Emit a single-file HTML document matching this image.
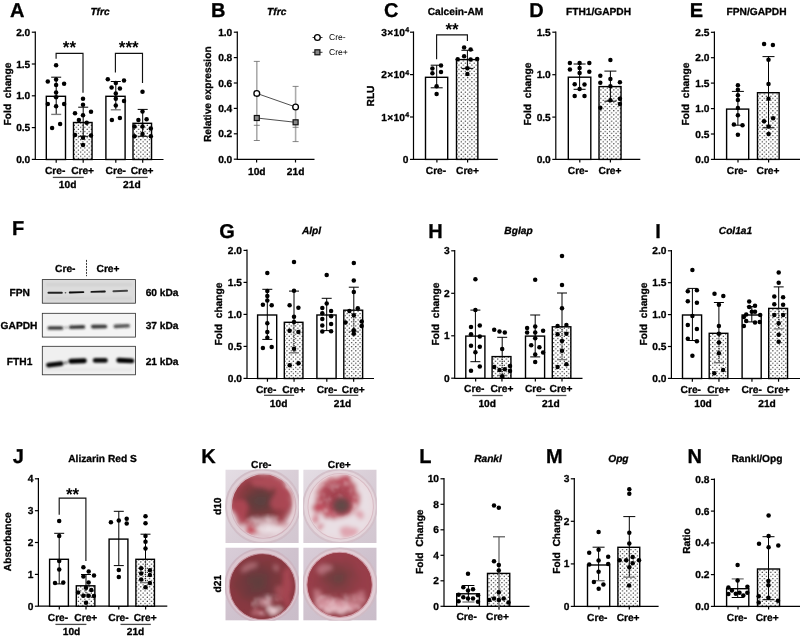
<!DOCTYPE html>
<html lang="en"><head><meta charset="utf-8"><title>Figure</title>
<style>html,body{margin:0;padding:0;background:#fff;}svg{display:block;}text{font-family:'Liberation Sans', Arial, sans-serif;fill:#000;text-rendering:geometricPrecision;}text[font-weight=bold]{stroke:#000;stroke-width:0.3px;stroke-linejoin:round;}</style>
</head><body>
<svg width="800" height="637" viewBox="0 0 800 637">
<defs>
<pattern id="dots" width="4.3" height="4.14" patternUnits="userSpaceOnUse">
<rect width="4.3" height="4.14" fill="#fff"/>
<circle cx="1.1" cy="1.0" r="0.62" fill="#000"/>
<circle cx="3.25" cy="3.07" r="0.62" fill="#000"/>
</pattern>
<filter id="blur1" x="-5%" y="-50%" width="110%" height="200%"><feGaussianBlur stdDeviation="0.55"/></filter>
<filter id="blur2" x="-5%" y="-50%" width="110%" height="200%"><feGaussianBlur stdDeviation="0.8"/></filter>
<filter id="blur3" x="-5%" y="-50%" width="110%" height="200%"><feGaussianBlur stdDeviation="1.0"/></filter>

<linearGradient id="kbg" x1="0" y1="0" x2="1" y2="1"><stop offset="0" stop-color="#e4dde4"/><stop offset="0.5" stop-color="#d9ced7"/><stop offset="1" stop-color="#d2c6d0"/></linearGradient>
<linearGradient id="kbg2" x1="0" y1="0" x2="1" y2="1"><stop offset="0" stop-color="#d9cdd8"/><stop offset="0.5" stop-color="#cfc2ce"/><stop offset="1" stop-color="#cabdc9"/></linearGradient>
<radialGradient id="kr1" cx="0.48" cy="0.5" r="0.5"><stop offset="0" stop-color="#584240"/><stop offset="0.32" stop-color="#673b3d"/><stop offset="0.6" stop-color="#87393f"/><stop offset="0.85" stop-color="#9e414c"/><stop offset="1" stop-color="#b35a64" stop-opacity="0.7"/></radialGradient>
<radialGradient id="kr2" cx="0.5" cy="0.5" r="0.5"><stop offset="0" stop-color="#9c3f4b"/><stop offset="0.6" stop-color="#ad4856"/><stop offset="0.85" stop-color="#bf606c"/><stop offset="1" stop-color="#d0808a" stop-opacity="0.6"/></radialGradient>
<radialGradient id="kd2" cx="0.5" cy="0.5" r="0.5"><stop offset="0" stop-color="#5c4a45"/><stop offset="0.55" stop-color="#704447"/><stop offset="1" stop-color="#9c414e" stop-opacity="0.5"/></radialGradient>
<radialGradient id="kr3" cx="0.5" cy="0.5" r="0.5"><stop offset="0" stop-color="#5c403e"/><stop offset="0.4" stop-color="#6c393c"/><stop offset="0.8" stop-color="#7e383e"/><stop offset="1" stop-color="#873840" stop-opacity="0.6"/></radialGradient>
<radialGradient id="kr4" cx="0.5" cy="0.5" r="0.5"><stop offset="0" stop-color="#66413f"/><stop offset="0.4" stop-color="#7b3c41"/><stop offset="0.8" stop-color="#903d46"/><stop offset="1" stop-color="#973e48" stop-opacity="0.6"/></radialGradient>
<clipPath id="kc1"><circle cx="52" cy="49.5" r="43"/></clipPath>
<clipPath id="kc2"><circle cx="51" cy="50" r="43.5"/></clipPath>
<clipPath id="kc3"><circle cx="50.5" cy="53.5" r="44.2"/></clipPath>
<clipPath id="kc4"><circle cx="49.5" cy="51" r="43.7"/></clipPath>
<filter id="kb1"><feGaussianBlur stdDeviation="1.2"/></filter>
<filter id="kb2" x="-30%" y="-30%" width="160%" height="160%"><feGaussianBlur stdDeviation="2.2"/></filter>
<filter id="wb" x="-10%" y="-10%" width="120%" height="120%">
<feTurbulence type="fractalNoise" baseFrequency="0.07" numOctaves="3" seed="4" result="n"/>
<feDisplacementMap in="SourceGraphic" in2="n" scale="12" xChannelSelector="R" yChannelSelector="G" result="d"/>
<feGaussianBlur in="d" stdDeviation="2.6"/>
</filter>
<filter id="mot" x="0" y="0" width="100%" height="100%">
<feTurbulence type="fractalNoise" baseFrequency="0.11" numOctaves="3" seed="11" result="t"/>
<feColorMatrix in="t" type="matrix" values="0 0 0 0 0.95  0 0 0 0 0.9  0 0 0 0 0.92  0 0 0 2.0 -0.85" result="m"/>
<feComposite in="m" in2="SourceGraphic" operator="in" result="c"/>
<feGaussianBlur in="c" stdDeviation="1.6"/>
</filter>

</defs>
<rect width="800" height="637" fill="#fff"/>
<g id="panelA">
<text x="17.3" y="17.2" font-size="20" font-weight="bold" text-anchor="middle">A</text>
<text x="100" y="14.6" font-size="10.2" font-weight="bold" text-anchor="middle" font-style="italic">Tfrc</text>
<path d="M35.3 31.5 V159.5 H163.5" fill="none" stroke="#000" stroke-width="1.2"/>
<line x1="31.799999999999997" y1="32.2" x2="35.3" y2="32.2" stroke="#000" stroke-width="1.2"/>
<text x="30.299999999999997" y="35.7" font-size="10.2" font-weight="bold" text-anchor="end">2.0</text>
<line x1="31.799999999999997" y1="64" x2="35.3" y2="64" stroke="#000" stroke-width="1.2"/>
<text x="30.299999999999997" y="67.5" font-size="10.2" font-weight="bold" text-anchor="end">1.5</text>
<line x1="31.799999999999997" y1="95.8" x2="35.3" y2="95.8" stroke="#000" stroke-width="1.2"/>
<text x="30.299999999999997" y="99.3" font-size="10.2" font-weight="bold" text-anchor="end">1.0</text>
<line x1="31.799999999999997" y1="127.6" x2="35.3" y2="127.6" stroke="#000" stroke-width="1.2"/>
<text x="30.299999999999997" y="131.1" font-size="10.2" font-weight="bold" text-anchor="end">0.5</text>
<line x1="31.799999999999997" y1="159.4" x2="35.3" y2="159.4" stroke="#000" stroke-width="1.2"/>
<text x="30.299999999999997" y="162.9" font-size="10.2" font-weight="bold" text-anchor="end">0.0</text>
<text x="10.9" y="94" font-size="10.2" font-weight="bold" text-anchor="middle" transform="rotate(-90 10.9 94)" xml:space="preserve">Fold  change</text>
<rect x="46.3" y="96.3" width="19.200000000000003" height="63.2" fill="#fff" stroke="#000" stroke-width="1.4"/>
<line x1="56.199999999999996" y1="159.5" x2="56.199999999999996" y2="162.7" stroke="#000" stroke-width="1.2"/>
<rect x="73.5" y="122.5" width="18.549999999999997" height="37.0" fill="url(#dots)" stroke="#000" stroke-width="1.4"/>
<line x1="83.2" y1="159.5" x2="83.2" y2="162.7" stroke="#000" stroke-width="1.2"/>
<rect x="105.9" y="96.3" width="19.19999999999999" height="63.2" fill="#fff" stroke="#000" stroke-width="1.4"/>
<line x1="115.80000000000001" y1="159.5" x2="115.80000000000001" y2="162.7" stroke="#000" stroke-width="1.2"/>
<rect x="133" y="123.3" width="18.55000000000001" height="36.2" fill="url(#dots)" stroke="#000" stroke-width="1.4"/>
<line x1="142.7" y1="159.5" x2="142.7" y2="162.7" stroke="#000" stroke-width="1.2"/>
<line x1="56.2" y1="77.2" x2="56.2" y2="114.4" stroke="#000" stroke-width="1.0"/>
<line x1="51.2" y1="77.2" x2="61.2" y2="77.2" stroke="#000" stroke-width="1.0"/>
<line x1="51.2" y1="114.4" x2="61.2" y2="114.4" stroke="#7a7a7a" stroke-width="1.35"/>
<line x1="83.2" y1="107.2" x2="83.2" y2="136.3" stroke="#000" stroke-width="1.0"/>
<line x1="78.2" y1="107.2" x2="88.2" y2="107.2" stroke="#000" stroke-width="1.0"/>
<line x1="78.2" y1="136.3" x2="88.2" y2="136.3" stroke="#000" stroke-width="1.0"/>
<line x1="115.8" y1="81.5" x2="115.8" y2="109.8" stroke="#000" stroke-width="1.0"/>
<line x1="110.8" y1="81.5" x2="120.8" y2="81.5" stroke="#000" stroke-width="1.0"/>
<line x1="110.8" y1="109.8" x2="120.8" y2="109.8" stroke="#7a7a7a" stroke-width="1.35"/>
<line x1="142.7" y1="109.4" x2="142.7" y2="136.3" stroke="#000" stroke-width="1.0"/>
<line x1="137.7" y1="109.4" x2="147.7" y2="109.4" stroke="#000" stroke-width="1.0"/>
<line x1="137.7" y1="136.3" x2="147.7" y2="136.3" stroke="#000" stroke-width="1.0"/>
<circle cx="56.1" cy="65.3" r="2.25"/>
<circle cx="47.8" cy="81.5" r="2.25"/>
<circle cx="56.1" cy="79.5" r="2.25"/>
<circle cx="64.1" cy="83.7" r="2.25"/>
<circle cx="56.1" cy="84.9" r="2.25"/>
<circle cx="56.1" cy="92.5" r="2.25"/>
<circle cx="56.1" cy="97.3" r="2.25"/>
<circle cx="47.8" cy="104.1" r="2.25"/>
<circle cx="64.1" cy="104.1" r="2.25"/>
<circle cx="56.1" cy="106.3" r="2.25"/>
<circle cx="60.1" cy="124" r="2.25"/>
<circle cx="52.1" cy="127.9" r="2.25"/>
<circle cx="83" cy="98.8" r="2.25"/>
<circle cx="83" cy="104.8" r="2.25"/>
<circle cx="75" cy="113.2" r="2.25"/>
<circle cx="91" cy="111.7" r="2.25"/>
<circle cx="83" cy="115.2" r="2.25"/>
<circle cx="78.9" cy="120" r="2.25"/>
<circle cx="86.7" cy="122.8" r="2.25"/>
<circle cx="75" cy="135" r="2.25"/>
<circle cx="91" cy="135.4" r="2.25"/>
<circle cx="83" cy="137.7" r="2.25"/>
<circle cx="83" cy="144.9" r="2.25"/>
<circle cx="107.8" cy="79.2" r="2.25"/>
<circle cx="124" cy="80.4" r="2.25"/>
<circle cx="115.8" cy="83" r="2.25"/>
<circle cx="111.6" cy="87.5" r="2.25"/>
<circle cx="119.9" cy="88.5" r="2.25"/>
<circle cx="115.8" cy="93.5" r="2.25"/>
<circle cx="115.8" cy="98.8" r="2.25"/>
<circle cx="124" cy="101" r="2.25"/>
<circle cx="115.8" cy="105.6" r="2.25"/>
<circle cx="119.9" cy="118" r="2.25"/>
<circle cx="111.9" cy="119.9" r="2.25"/>
<circle cx="142.5" cy="91.7" r="2.25"/>
<circle cx="142.5" cy="111.6" r="2.25"/>
<circle cx="138.4" cy="120" r="2.25"/>
<circle cx="146.6" cy="119.2" r="2.25"/>
<circle cx="134.5" cy="126.4" r="2.25"/>
<circle cx="150.8" cy="128.6" r="2.25"/>
<circle cx="142.5" cy="126.4" r="2.25"/>
<circle cx="142.5" cy="133.9" r="2.25"/>
<circle cx="134.5" cy="136.2" r="2.25"/>
<circle cx="150.8" cy="136.2" r="2.25"/>
<path d="M56.1 58.8 V53.3 H83 V92.8" fill="none" stroke="#111" stroke-width="1.15"/>
<text x="69.4" y="53.1" font-size="17" font-weight="bold" text-anchor="middle" style="stroke:none">**</text>
<path d="M115.4 72.4 V53.3 H142.5 V83" fill="none" stroke="#111" stroke-width="1.15"/>
<text x="128.7" y="53.1" font-size="17" font-weight="bold" text-anchor="middle" style="stroke:none">***</text>
<text x="55.1" y="173.9" font-size="10.2" font-weight="bold" text-anchor="middle">Cre-</text>
<text x="82.6" y="173.9" font-size="10.2" font-weight="bold" text-anchor="middle">Cre+</text>
<text x="115.8" y="173.9" font-size="10.2" font-weight="bold" text-anchor="middle">Cre-</text>
<text x="142.1" y="173.9" font-size="10.2" font-weight="bold" text-anchor="middle">Cre+</text>
<line x1="52.8" y1="177.4" x2="83.7" y2="177.4" stroke="#4a4a4a" stroke-width="1.3"/>
<line x1="116.1" y1="177.4" x2="147.8" y2="177.4" stroke="#4a4a4a" stroke-width="1.3"/>
<text x="67.6" y="188.3" font-size="10.2" font-weight="bold" text-anchor="middle">10d</text>
<text x="131.9" y="188.3" font-size="10.2" font-weight="bold" text-anchor="middle">21d</text>
</g>
<g id="panelB">
<text x="218.3" y="17.2" font-size="20" font-weight="bold" text-anchor="middle">B</text>
<text x="276.7" y="14.6" font-size="10.2" font-weight="bold" text-anchor="middle" font-style="italic">Tfrc</text>
<path d="M237.3 31.5 V159.3 H314.5" fill="none" stroke="#000" stroke-width="1.2"/>
<line x1="233.8" y1="32.2" x2="237.3" y2="32.2" stroke="#000" stroke-width="1.2"/>
<text x="232.3" y="35.7" font-size="10.2" font-weight="bold" text-anchor="end">1.0</text>
<line x1="233.8" y1="57.6" x2="237.3" y2="57.6" stroke="#000" stroke-width="1.2"/>
<text x="232.3" y="61.1" font-size="10.2" font-weight="bold" text-anchor="end">0.8</text>
<line x1="233.8" y1="83" x2="237.3" y2="83" stroke="#000" stroke-width="1.2"/>
<text x="232.3" y="86.5" font-size="10.2" font-weight="bold" text-anchor="end">0.6</text>
<line x1="233.8" y1="108.4" x2="237.3" y2="108.4" stroke="#000" stroke-width="1.2"/>
<text x="232.3" y="111.9" font-size="10.2" font-weight="bold" text-anchor="end">0.4</text>
<line x1="233.8" y1="133.8" x2="237.3" y2="133.8" stroke="#000" stroke-width="1.2"/>
<text x="232.3" y="137.3" font-size="10.2" font-weight="bold" text-anchor="end">0.2</text>
<line x1="233.8" y1="159.2" x2="237.3" y2="159.2" stroke="#000" stroke-width="1.2"/>
<text x="232.3" y="162.7" font-size="10.2" font-weight="bold" text-anchor="end">0.0</text>
<text x="211" y="94.2" font-size="10.2" font-weight="bold" text-anchor="middle" transform="rotate(-90 211 94.2)">Relative expression</text>
<line x1="256.6" y1="159.3" x2="256.6" y2="162.5" stroke="#000" stroke-width="1.2"/>
<line x1="295.5" y1="159.3" x2="295.5" y2="162.5" stroke="#000" stroke-width="1.2"/>
<text x="256.8" y="175.2" font-size="10.2" font-weight="bold" text-anchor="middle">10d</text>
<text x="295.6" y="175.2" font-size="10.2" font-weight="bold" text-anchor="middle">21d</text>
<line x1="256.8" y1="61.4" x2="256.8" y2="140.5" stroke="#ababab" stroke-width="1.6"/>
<line x1="253.8" y1="61.4" x2="259.8" y2="61.4" stroke="#666" stroke-width="0.8"/>
<line x1="253.8" y1="125.3" x2="259.8" y2="125.3" stroke="#666" stroke-width="0.8"/>
<line x1="253.8" y1="140.5" x2="259.8" y2="140.5" stroke="#666" stroke-width="0.8"/>
<line x1="295.6" y1="86.4" x2="295.6" y2="141.6" stroke="#ababab" stroke-width="1.6"/>
<line x1="292.6" y1="86.4" x2="298.6" y2="86.4" stroke="#666" stroke-width="0.8"/>
<line x1="292.6" y1="127.3" x2="298.6" y2="127.3" stroke="#666" stroke-width="0.8"/>
<line x1="292.6" y1="141.6" x2="298.6" y2="141.6" stroke="#666" stroke-width="0.8"/>
<line x1="256.8" y1="93.4" x2="295.6" y2="107" stroke="#222" stroke-width="0.8"/>
<line x1="256.8" y1="118" x2="295.6" y2="122.3" stroke="#222" stroke-width="0.8"/>
<rect x="254.3" y="115.5" width="5" height="5" fill="#888" stroke="#111" stroke-width="1.2"/>
<rect x="293.1" y="119.8" width="5" height="5" fill="#888" stroke="#111" stroke-width="1.2"/>
<circle cx="256.8" cy="93.4" r="2.85" fill="#fff" stroke="#000" stroke-width="1.35"/>
<circle cx="295.6" cy="107" r="2.85" fill="#fff" stroke="#000" stroke-width="1.35"/>
<line x1="312.5" y1="37.5" x2="322.5" y2="37.5" stroke="#222" stroke-width="0.9"/>
<circle cx="317.4" cy="37.5" r="2.85" fill="#fff" stroke="#000" stroke-width="1.35"/>
<text x="329" y="40.4" font-size="8.6" font-weight="normal" text-anchor="start">Cre-</text>
<line x1="312.5" y1="52.3" x2="322.5" y2="52.3" stroke="#222" stroke-width="0.9"/>
<rect x="314.9" y="49.8" width="5" height="5" fill="#888" stroke="#111" stroke-width="1.2"/>
<text x="329" y="55.2" font-size="8.6" font-weight="normal" text-anchor="start">Cre+</text>
</g>
<g id="panelC">
<text x="391.3" y="17.2" font-size="20" font-weight="bold" text-anchor="middle">C</text>
<text x="455.5" y="15" font-size="10.2" font-weight="bold" text-anchor="middle">Calcein-AM</text>
<path d="M413.5 31.5 V159.4 H497.8" fill="none" stroke="#000" stroke-width="1.2"/>
<line x1="410.0" y1="32.2" x2="413.5" y2="32.2" stroke="#000" stroke-width="1.2"/>
<line x1="410.0" y1="74.6" x2="413.5" y2="74.6" stroke="#000" stroke-width="1.2"/>
<line x1="410.0" y1="117" x2="413.5" y2="117" stroke="#000" stroke-width="1.2"/>
<line x1="410.0" y1="159.4" x2="413.5" y2="159.4" stroke="#000" stroke-width="1.2"/>
<text x="408.5" y="162.9" font-size="10.2" font-weight="bold" text-anchor="end">0</text>
<text x="409.4" y="35.7" font-size="10.2" font-weight="bold" text-anchor="end" letter-spacing="0.25">3×10<tspan font-size="7" dy="-3.6">4</tspan></text>
<text x="409.4" y="78.1" font-size="10.2" font-weight="bold" text-anchor="end" letter-spacing="0.25">2×10<tspan font-size="7" dy="-3.6">4</tspan></text>
<text x="409.4" y="120.5" font-size="10.2" font-weight="bold" text-anchor="end" letter-spacing="0.25">1×10<tspan font-size="7" dy="-3.6">4</tspan></text>
<text x="374" y="96" font-size="10.2" font-weight="bold" text-anchor="middle" transform="rotate(-90 374 96)">RLU</text>
<rect x="425.5" y="77.3" width="22.19999999999999" height="82.10000000000001" fill="#fff" stroke="#000" stroke-width="1.4"/>
<rect x="456.5" y="59.6" width="21.350000000000023" height="99.80000000000001" fill="url(#dots)" stroke="#000" stroke-width="1.4"/>
<line x1="436.9" y1="159.4" x2="436.9" y2="162.6" stroke="#000" stroke-width="1.2"/>
<line x1="467.6" y1="159.4" x2="467.6" y2="162.6" stroke="#000" stroke-width="1.2"/>
<line x1="436.7" y1="65.2" x2="436.7" y2="87.8" stroke="#000" stroke-width="1.0"/>
<line x1="430.7" y1="65.2" x2="442.7" y2="65.2" stroke="#000" stroke-width="1.0"/>
<line x1="430.7" y1="87.8" x2="442.7" y2="87.8" stroke="#000" stroke-width="1.0"/>
<line x1="467.4" y1="50.3" x2="467.4" y2="68.4" stroke="#000" stroke-width="1.0"/>
<line x1="461.4" y1="50.3" x2="473.4" y2="50.3" stroke="#000" stroke-width="1.0"/>
<line x1="461.4" y1="68.4" x2="473.4" y2="68.4" stroke="#000" stroke-width="1.0"/>
<circle cx="441" cy="65.5" r="2.25"/>
<circle cx="432.4" cy="68.5" r="2.25"/>
<circle cx="432.4" cy="73.2" r="2.25"/>
<circle cx="441" cy="72" r="2.25"/>
<circle cx="436.6" cy="86.3" r="2.25"/>
<circle cx="436.6" cy="93.9" r="2.25"/>
<circle cx="464.1" cy="47.6" r="2.25"/>
<circle cx="470.6" cy="49.4" r="2.25"/>
<circle cx="464.1" cy="56.2" r="2.25"/>
<circle cx="457.7" cy="59.2" r="2.25"/>
<circle cx="470.6" cy="59.5" r="2.25"/>
<circle cx="477.2" cy="58.9" r="2.25"/>
<circle cx="467.4" cy="68.2" r="2.25"/>
<circle cx="467.4" cy="74" r="2.25"/>
<path d="M436.6 59.2 V34.8 H467.4 V41.1" fill="none" stroke="#111" stroke-width="1.15"/>
<text x="452" y="35.400000000000006" font-size="17" font-weight="bold" text-anchor="middle" style="stroke:none">**</text>
<text x="436" y="174.2" font-size="10.2" font-weight="bold" text-anchor="middle">Cre-</text>
<text x="467.5" y="174.2" font-size="10.2" font-weight="bold" text-anchor="middle">Cre+</text>
</g>
<g id="panelD">
<text x="536.5" y="17.2" font-size="20" font-weight="bold" text-anchor="middle">D</text>
<text x="598.5" y="15" font-size="10.2" font-weight="bold" text-anchor="middle">FTH1/GAPDH</text>
<path d="M555.8 31.5 V159.4 H640.3" fill="none" stroke="#000" stroke-width="1.2"/>
<line x1="552.3" y1="32.2" x2="555.8" y2="32.2" stroke="#000" stroke-width="1.2"/>
<text x="550.8" y="35.7" font-size="10.2" font-weight="bold" text-anchor="end">1.5</text>
<line x1="552.3" y1="74.7" x2="555.8" y2="74.7" stroke="#000" stroke-width="1.2"/>
<text x="550.8" y="78.2" font-size="10.2" font-weight="bold" text-anchor="end">1.0</text>
<line x1="552.3" y1="117.1" x2="555.8" y2="117.1" stroke="#000" stroke-width="1.2"/>
<text x="550.8" y="120.6" font-size="10.2" font-weight="bold" text-anchor="end">0.5</text>
<line x1="552.3" y1="159.4" x2="555.8" y2="159.4" stroke="#000" stroke-width="1.2"/>
<text x="550.8" y="162.9" font-size="10.2" font-weight="bold" text-anchor="end">0.0</text>
<text x="530.8" y="94" font-size="10.2" font-weight="bold" text-anchor="middle" transform="rotate(-90 530.8 94)" xml:space="preserve">Fold  change</text>
<rect x="568.3" y="77.2" width="22.5" height="82.2" fill="#fff" stroke="#000" stroke-width="1.4"/>
<rect x="599" y="86.6" width="22.049999999999955" height="72.80000000000001" fill="url(#dots)" stroke="#000" stroke-width="1.4"/>
<line x1="579.8" y1="159.4" x2="579.8" y2="162.6" stroke="#000" stroke-width="1.2"/>
<line x1="610.4" y1="159.4" x2="610.4" y2="162.6" stroke="#000" stroke-width="1.2"/>
<line x1="579.6" y1="64" x2="579.6" y2="89.3" stroke="#000" stroke-width="1.0"/>
<line x1="573.6" y1="64" x2="585.6" y2="64" stroke="#000" stroke-width="1.0"/>
<line x1="573.6" y1="89.3" x2="585.6" y2="89.3" stroke="#000" stroke-width="1.0"/>
<line x1="610.4" y1="71.1" x2="610.4" y2="101.2" stroke="#000" stroke-width="1.0"/>
<line x1="604.4" y1="71.1" x2="616.4" y2="71.1" stroke="#000" stroke-width="1.0"/>
<line x1="604.4" y1="101.2" x2="616.4" y2="101.2" stroke="#000" stroke-width="1.0"/>
<circle cx="569.9" cy="62.9" r="2.25"/>
<circle cx="579.6" cy="62.9" r="2.25"/>
<circle cx="589.3" cy="62.9" r="2.25"/>
<circle cx="569.9" cy="69.4" r="2.25"/>
<circle cx="579.6" cy="67.9" r="2.25"/>
<circle cx="589.3" cy="71.7" r="2.25"/>
<circle cx="579.6" cy="72.9" r="2.25"/>
<circle cx="574.7" cy="84.2" r="2.25"/>
<circle cx="584.5" cy="84.5" r="2.25"/>
<circle cx="579.6" cy="89" r="2.25"/>
<circle cx="574.7" cy="96.1" r="2.25"/>
<circle cx="584.5" cy="96.1" r="2.25"/>
<circle cx="610.4" cy="60.1" r="2.25"/>
<circle cx="600.3" cy="75.7" r="2.25"/>
<circle cx="610.4" cy="78.9" r="2.25"/>
<circle cx="600.3" cy="82.7" r="2.25"/>
<circle cx="619.9" cy="82.2" r="2.25"/>
<circle cx="610.4" cy="86.3" r="2.25"/>
<circle cx="619.9" cy="98.8" r="2.25"/>
<circle cx="610.4" cy="100.3" r="2.25"/>
<circle cx="619.9" cy="104.1" r="2.25"/>
<circle cx="600.3" cy="107.8" r="2.25"/>
<text x="578" y="174.2" font-size="10.2" font-weight="bold" text-anchor="middle">Cre-</text>
<text x="610" y="174.2" font-size="10.2" font-weight="bold" text-anchor="middle">Cre+</text>
</g>
<g id="panelE">
<text x="696.5" y="17.2" font-size="20" font-weight="bold" text-anchor="middle">E</text>
<text x="756.5" y="15" font-size="10.2" font-weight="bold" text-anchor="middle">FPN/GAPDH</text>
<path d="M714.4 31.5 V159.4 H800" fill="none" stroke="#000" stroke-width="1.2"/>
<line x1="710.9" y1="32.3" x2="714.4" y2="32.3" stroke="#000" stroke-width="1.2"/>
<text x="709.4" y="35.8" font-size="10.2" font-weight="bold" text-anchor="end">2.5</text>
<line x1="710.9" y1="57.7" x2="714.4" y2="57.7" stroke="#000" stroke-width="1.2"/>
<text x="709.4" y="61.2" font-size="10.2" font-weight="bold" text-anchor="end">2.0</text>
<line x1="710.9" y1="83.1" x2="714.4" y2="83.1" stroke="#000" stroke-width="1.2"/>
<text x="709.4" y="86.6" font-size="10.2" font-weight="bold" text-anchor="end">1.5</text>
<line x1="710.9" y1="108.6" x2="714.4" y2="108.6" stroke="#000" stroke-width="1.2"/>
<text x="709.4" y="112.1" font-size="10.2" font-weight="bold" text-anchor="end">1.0</text>
<line x1="710.9" y1="134" x2="714.4" y2="134" stroke="#000" stroke-width="1.2"/>
<text x="709.4" y="137.5" font-size="10.2" font-weight="bold" text-anchor="end">0.5</text>
<line x1="710.9" y1="159.4" x2="714.4" y2="159.4" stroke="#000" stroke-width="1.2"/>
<text x="709.4" y="162.9" font-size="10.2" font-weight="bold" text-anchor="end">0.0</text>
<text x="689.3" y="94" font-size="10.2" font-weight="bold" text-anchor="middle" transform="rotate(-90 689.3 94)" xml:space="preserve">Fold  change</text>
<rect x="726.6" y="109.1" width="22.100000000000023" height="50.30000000000001" fill="#fff" stroke="#000" stroke-width="1.4"/>
<rect x="757.5" y="92.7" width="21.649999999999977" height="66.7" fill="url(#dots)" stroke="#000" stroke-width="1.4"/>
<line x1="738" y1="159.4" x2="738" y2="162.6" stroke="#000" stroke-width="1.2"/>
<line x1="768.6" y1="159.4" x2="768.6" y2="162.6" stroke="#000" stroke-width="1.2"/>
<line x1="737.9" y1="91.4" x2="737.9" y2="125.2" stroke="#000" stroke-width="1.0"/>
<line x1="731.9" y1="91.4" x2="743.9" y2="91.4" stroke="#000" stroke-width="1.0"/>
<line x1="731.9" y1="125.2" x2="743.9" y2="125.2" stroke="#000" stroke-width="1.0"/>
<line x1="768.5" y1="56.6" x2="768.5" y2="127.8" stroke="#000" stroke-width="1.0"/>
<line x1="762.5" y1="56.6" x2="774.5" y2="56.6" stroke="#000" stroke-width="1.0"/>
<line x1="762.5" y1="127.8" x2="774.5" y2="127.8" stroke="#000" stroke-width="1.0"/>
<circle cx="737.9" cy="85.2" r="2.25"/>
<circle cx="737.9" cy="89.8" r="2.25"/>
<circle cx="737.9" cy="95.2" r="2.25"/>
<circle cx="737.9" cy="100.1" r="2.25"/>
<circle cx="737.9" cy="108.1" r="2.25"/>
<circle cx="737.9" cy="115.2" r="2.25"/>
<circle cx="733.9" cy="124.6" r="2.25"/>
<circle cx="742.5" cy="125.2" r="2.25"/>
<circle cx="737.9" cy="134.7" r="2.25"/>
<circle cx="764.1" cy="44.1" r="2.25"/>
<circle cx="772.9" cy="45.1" r="2.25"/>
<circle cx="768.5" cy="59.8" r="2.25"/>
<circle cx="768.5" cy="84" r="2.25"/>
<circle cx="768.5" cy="98.8" r="2.25"/>
<circle cx="764" cy="121.2" r="2.25"/>
<circle cx="773.1" cy="118.2" r="2.25"/>
<circle cx="768.6" cy="126.6" r="2.25"/>
<circle cx="768.6" cy="133.9" r="2.25"/>
<text x="737" y="174.2" font-size="10.2" font-weight="bold" text-anchor="middle">Cre-</text>
<text x="768" y="174.2" font-size="10.2" font-weight="bold" text-anchor="middle">Cre+</text>
</g>
<g id="panelF">
<text x="18.2" y="235.2" font-size="20" font-weight="bold" text-anchor="middle">F</text>
<text x="65.3" y="271.8" font-size="10.2" font-weight="bold" text-anchor="middle">Cre-</text>
<text x="108" y="271.8" font-size="10.2" font-weight="bold" text-anchor="middle">Cre+</text>
<line x1="86.5" y1="259.9" x2="86.5" y2="276.2" stroke="#222" stroke-width="0.9" stroke-dasharray="2 1"/>
<rect x="42.3" y="279.6" width="93.2" height="23.599999999999966" fill="#dcdcdc"/>
<rect x="42.3" y="313.3" width="93.2" height="23.80000000000001" fill="#f4f4f4"/>
<rect x="42.3" y="346.3" width="93.2" height="28.5" fill="#f0f0f0"/>
<g filter="url(#blur2)">
<rect x="46" y="283" width="86" height="3.2" fill="#cfcfcf" opacity="0.8"/>
<rect x="46" y="296.5" width="86" height="4" fill="#d2d2d2" opacity="0.8"/>
<rect x="44" y="368" width="88" height="3" fill="#e6e6e6" opacity="0.9"/>
</g>
<g filter="url(#blur1)">
<rect x="47.5" y="291.85" width="15.299999999999997" height="1.9" rx="0.95" fill="#0d0d0d" opacity="0.9" transform="rotate(0 55.15 292.8)"/>
<rect x="68.8" y="291.35" width="15.5" height="1.9" rx="0.95" fill="#0d0d0d" opacity="1" transform="rotate(-1.5 76.55 292.3)"/>
<rect x="90.5" y="290.75" width="15.299999999999997" height="1.9" rx="0.95" fill="#0d0d0d" opacity="0.95" transform="rotate(-1.5 98.15 291.7)"/>
<rect x="112.5" y="290.05" width="15.5" height="1.9" rx="0.95" fill="#0d0d0d" opacity="0.75" transform="rotate(-2 120.25 291)"/>
<circle cx="65.5" cy="292.8" r="0.8" fill="#222" opacity="0.7"/>
</g>
<g filter="url(#blur2)">
<rect x="47.5" y="326.15" width="15.799999999999997" height="3.7" rx="1.85" fill="#1c1c1c" opacity="0.88" transform="rotate(0 55.4 328)"/>
<rect x="68.8" y="325.25" width="16.400000000000006" height="3.7" rx="1.85" fill="#1c1c1c" opacity="0.88" transform="rotate(-1.5 77.0 327.1)"/>
<rect x="91" y="324.75" width="16.200000000000003" height="3.7" rx="1.85" fill="#1c1c1c" opacity="0.9" transform="rotate(-1 99.1 326.6)"/>
<rect x="113.5" y="324.25" width="16.5" height="3.7" rx="1.85" fill="#1c1c1c" opacity="0.75" transform="rotate(-3 121.75 326.1)"/>
<circle cx="66" cy="327.6" r="1" fill="#222" opacity="0.7"/>
</g>
<g filter="url(#blur3)">
<rect x="46" y="362.0" width="17.6" height="4.8" rx="2.4" fill="#050505" opacity="0.97" transform="rotate(-6 54.8 364.4)"/>
<rect x="68.3" y="358.6" width="18.5" height="4.8" rx="2.4" fill="#050505" opacity="1" transform="rotate(-2 77.55 361)"/>
<rect x="92.8" y="358.0" width="15.0" height="4.8" rx="2.4" fill="#050505" opacity="0.95" transform="rotate(0 100.3 360.4)"/>
<rect x="116.3" y="358.20000000000005" width="18.000000000000014" height="4.8" rx="2.4" fill="#050505" opacity="1" transform="rotate(3 125.30000000000001 360.6)"/>
<circle cx="65.8" cy="362.8" r="1.3" fill="#111" opacity="0.8"/>
</g>
<rect x="42.3" y="279.6" width="93.2" height="23.599999999999966" fill="none" stroke="#2a2a2a" stroke-width="0.8"/>
<rect x="42.3" y="313.3" width="93.2" height="23.80000000000001" fill="none" stroke="#2a2a2a" stroke-width="0.8"/>
<rect x="42.3" y="346.3" width="93.2" height="28.5" fill="none" stroke="#2a2a2a" stroke-width="0.8"/>
<text x="19.6" y="295.7" font-size="10.2" font-weight="bold" text-anchor="middle">FPN</text>
<text x="19" y="328.6" font-size="10.2" font-weight="bold" text-anchor="middle">GAPDH</text>
<text x="19.6" y="365" font-size="10.2" font-weight="bold" text-anchor="middle">FTH1</text>
<text x="145.7" y="295.7" font-size="10.2" font-weight="bold" text-anchor="start">60 kDa</text>
<text x="145.7" y="328.6" font-size="10.2" font-weight="bold" text-anchor="start">37 kDa</text>
<text x="145.7" y="365" font-size="10.2" font-weight="bold" text-anchor="start">21 kDa</text>
</g>
<g id="panelG">
<text x="227" y="237.6" font-size="20" font-weight="bold" text-anchor="middle">G</text>
<text x="311.5" y="234" font-size="10.2" font-weight="bold" text-anchor="middle" font-style="italic">Alpl</text>
<path d="M247 249.5 V378.5 H374" fill="none" stroke="#000" stroke-width="1.2"/>
<line x1="243.5" y1="250.4" x2="247" y2="250.4" stroke="#000" stroke-width="1.2"/>
<text x="242" y="253.9" font-size="10.2" font-weight="bold" text-anchor="end">2.0</text>
<line x1="243.5" y1="282.4" x2="247" y2="282.4" stroke="#000" stroke-width="1.2"/>
<text x="242" y="285.9" font-size="10.2" font-weight="bold" text-anchor="end">1.5</text>
<line x1="243.5" y1="314.4" x2="247" y2="314.4" stroke="#000" stroke-width="1.2"/>
<text x="242" y="317.9" font-size="10.2" font-weight="bold" text-anchor="end">1.0</text>
<line x1="243.5" y1="346.4" x2="247" y2="346.4" stroke="#000" stroke-width="1.2"/>
<text x="242" y="349.9" font-size="10.2" font-weight="bold" text-anchor="end">0.5</text>
<line x1="243.5" y1="378.4" x2="247" y2="378.4" stroke="#000" stroke-width="1.2"/>
<text x="242" y="381.9" font-size="10.2" font-weight="bold" text-anchor="end">0.0</text>
<text x="221.6" y="314" font-size="10.2" font-weight="bold" text-anchor="middle" transform="rotate(-90 221.6 314)" xml:space="preserve">Fold  change</text>
<rect x="257.6" y="315" width="19.099999999999966" height="63.5" fill="#fff" stroke="#000" stroke-width="1.4"/>
<line x1="267.45000000000005" y1="378.5" x2="267.45000000000005" y2="381.7" stroke="#000" stroke-width="1.2"/>
<rect x="284.3" y="322.3" width="18.649999999999977" height="56.19999999999999" fill="url(#dots)" stroke="#000" stroke-width="1.4"/>
<line x1="294.05" y1="378.5" x2="294.05" y2="381.7" stroke="#000" stroke-width="1.2"/>
<rect x="316.9" y="315" width="19.200000000000045" height="63.5" fill="#fff" stroke="#000" stroke-width="1.4"/>
<line x1="326.79999999999995" y1="378.5" x2="326.79999999999995" y2="381.7" stroke="#000" stroke-width="1.2"/>
<rect x="343.8" y="310.2" width="18.849999999999966" height="68.30000000000001" fill="url(#dots)" stroke="#000" stroke-width="1.4"/>
<line x1="353.65" y1="378.5" x2="353.65" y2="381.7" stroke="#000" stroke-width="1.2"/>
<line x1="267.3" y1="289.3" x2="267.3" y2="339.4" stroke="#000" stroke-width="1.0"/>
<line x1="262.3" y1="289.3" x2="272.3" y2="289.3" stroke="#000" stroke-width="1.0"/>
<line x1="262.3" y1="339.4" x2="272.3" y2="339.4" stroke="#000" stroke-width="1.0"/>
<line x1="294" y1="291.1" x2="294" y2="322.3" stroke="#000" stroke-width="1.0"/>
<line x1="294" y1="322.3" x2="294" y2="352.8" stroke="#1a1a1a" stroke-width="1.1" stroke-dasharray="1.3 0.75"/>
<line x1="289.0" y1="291.1" x2="299.0" y2="291.1" stroke="#000" stroke-width="1.0"/>
<line x1="289.0" y1="352.8" x2="299.0" y2="352.8" stroke="#7a7a7a" stroke-width="1.35"/>
<line x1="326.7" y1="298.3" x2="326.7" y2="330.6" stroke="#000" stroke-width="1.0"/>
<line x1="321.7" y1="298.3" x2="331.7" y2="298.3" stroke="#000" stroke-width="1.0"/>
<line x1="321.7" y1="330.6" x2="331.7" y2="330.6" stroke="#000" stroke-width="1.0"/>
<line x1="353.8" y1="287.2" x2="353.8" y2="310.2" stroke="#000" stroke-width="1.0"/>
<line x1="353.8" y1="310.2" x2="353.8" y2="331.5" stroke="#1a1a1a" stroke-width="1.1" stroke-dasharray="1.3 0.75"/>
<line x1="348.8" y1="287.2" x2="358.8" y2="287.2" stroke="#000" stroke-width="1.0"/>
<line x1="348.8" y1="331.5" x2="358.8" y2="331.5" stroke="#7a7a7a" stroke-width="1.35"/>
<circle cx="267.3" cy="273.1" r="2.25"/>
<circle cx="267.3" cy="291.1" r="2.25"/>
<circle cx="267.3" cy="296" r="2.25"/>
<circle cx="267.3" cy="300.4" r="2.25"/>
<circle cx="262.9" cy="304.8" r="2.25"/>
<circle cx="271.7" cy="305.3" r="2.25"/>
<circle cx="267.3" cy="323.3" r="2.25"/>
<circle cx="267.3" cy="332.1" r="2.25"/>
<circle cx="267.3" cy="337.7" r="2.25"/>
<circle cx="262.9" cy="347.9" r="2.25"/>
<circle cx="271.7" cy="347" r="2.25"/>
<circle cx="294" cy="262.1" r="2.25"/>
<circle cx="294" cy="290.7" r="2.25"/>
<circle cx="289.6" cy="305.3" r="2.25"/>
<circle cx="298.4" cy="307.8" r="2.25"/>
<circle cx="294" cy="316.8" r="2.25"/>
<circle cx="294" cy="321.9" r="2.25"/>
<circle cx="289.6" cy="330.8" r="2.25"/>
<circle cx="298.4" cy="332.1" r="2.25"/>
<circle cx="294" cy="348.8" r="2.25"/>
<circle cx="289.7" cy="365.2" r="2.25"/>
<circle cx="298.5" cy="363.2" r="2.25"/>
<circle cx="326.7" cy="274.9" r="2.25"/>
<circle cx="326.7" cy="303.6" r="2.25"/>
<circle cx="322.3" cy="308" r="2.25"/>
<circle cx="331.1" cy="311" r="2.25"/>
<circle cx="322.3" cy="313.2" r="2.25"/>
<circle cx="331.1" cy="316.2" r="2.25"/>
<circle cx="322.3" cy="318.9" r="2.25"/>
<circle cx="322.3" cy="325.4" r="2.25"/>
<circle cx="331.1" cy="324.1" r="2.25"/>
<circle cx="322.3" cy="331.5" r="2.25"/>
<circle cx="331.1" cy="331.2" r="2.25"/>
<circle cx="353.8" cy="263.1" r="2.25"/>
<circle cx="353.8" cy="280.5" r="2.25"/>
<circle cx="353.8" cy="292" r="2.25"/>
<circle cx="349.4" cy="310.9" r="2.25"/>
<circle cx="357.8" cy="308.3" r="2.25"/>
<circle cx="353.8" cy="315.3" r="2.25"/>
<circle cx="345.5" cy="322.4" r="2.25"/>
<circle cx="361.7" cy="321.5" r="2.25"/>
<circle cx="361.7" cy="325.9" r="2.25"/>
<circle cx="353.8" cy="330.3" r="2.25"/>
<circle cx="353.8" cy="333.8" r="2.25"/>
<text x="266.2" y="392.5" font-size="10.2" font-weight="bold" text-anchor="middle">Cre-</text>
<text x="293.7" y="392.5" font-size="10.2" font-weight="bold" text-anchor="middle">Cre+</text>
<text x="326.9" y="392.5" font-size="10.2" font-weight="bold" text-anchor="middle">Cre-</text>
<text x="353.3" y="392.5" font-size="10.2" font-weight="bold" text-anchor="middle">Cre+</text>
<line x1="264" y1="395.3" x2="294.2" y2="395.3" stroke="#4a4a4a" stroke-width="1.3"/>
<line x1="328.1" y1="395.3" x2="358.3" y2="395.3" stroke="#4a4a4a" stroke-width="1.3"/>
<text x="278.6" y="407" font-size="10.2" font-weight="bold" text-anchor="middle">10d</text>
<text x="342.5" y="407" font-size="10.2" font-weight="bold" text-anchor="middle">21d</text>
</g>
<g id="panelH">
<text x="435.5" y="237.6" font-size="20" font-weight="bold" text-anchor="middle">H</text>
<text x="518.5" y="234" font-size="10.2" font-weight="bold" text-anchor="middle" font-style="italic">Bglap</text>
<path d="M454.7 250.0 V378.3 H582.5" fill="none" stroke="#000" stroke-width="1.2"/>
<line x1="451.2" y1="250.8" x2="454.7" y2="250.8" stroke="#000" stroke-width="1.2"/>
<text x="449.7" y="254.3" font-size="10.2" font-weight="bold" text-anchor="end">3</text>
<line x1="451.2" y1="293.3" x2="454.7" y2="293.3" stroke="#000" stroke-width="1.2"/>
<text x="449.7" y="296.8" font-size="10.2" font-weight="bold" text-anchor="end">2</text>
<line x1="451.2" y1="335.8" x2="454.7" y2="335.8" stroke="#000" stroke-width="1.2"/>
<text x="449.7" y="339.3" font-size="10.2" font-weight="bold" text-anchor="end">1</text>
<line x1="451.2" y1="378.2" x2="454.7" y2="378.2" stroke="#000" stroke-width="1.2"/>
<text x="449.7" y="381.7" font-size="10.2" font-weight="bold" text-anchor="end">0</text>
<text x="439.3" y="314" font-size="10.2" font-weight="bold" text-anchor="middle" transform="rotate(-90 439.3 314)" xml:space="preserve">Fold  change</text>
<rect x="465.8" y="336.1" width="19.099999999999966" height="42.19999999999999" fill="#fff" stroke="#000" stroke-width="1.4"/>
<line x1="475.65" y1="378.3" x2="475.65" y2="381.5" stroke="#000" stroke-width="1.2"/>
<rect x="492.1" y="356.6" width="18.849999999999966" height="21.69999999999999" fill="url(#dots)" stroke="#000" stroke-width="1.4"/>
<line x1="501.95000000000005" y1="378.3" x2="501.95000000000005" y2="381.5" stroke="#000" stroke-width="1.2"/>
<rect x="525.5" y="336.1" width="19.100000000000023" height="42.19999999999999" fill="#fff" stroke="#000" stroke-width="1.4"/>
<line x1="535.35" y1="378.3" x2="535.35" y2="381.5" stroke="#000" stroke-width="1.2"/>
<rect x="552.3" y="326.8" width="18.550000000000068" height="51.5" fill="url(#dots)" stroke="#000" stroke-width="1.4"/>
<line x1="562.0" y1="378.3" x2="562.0" y2="381.5" stroke="#000" stroke-width="1.2"/>
<line x1="475.4" y1="310.1" x2="475.4" y2="361.7" stroke="#000" stroke-width="1.0"/>
<line x1="470.4" y1="310.1" x2="480.4" y2="310.1" stroke="#000" stroke-width="1.0"/>
<line x1="470.4" y1="361.7" x2="480.4" y2="361.7" stroke="#000" stroke-width="1.0"/>
<line x1="502.2" y1="337.3" x2="502.2" y2="356.6" stroke="#000" stroke-width="1.0"/>
<line x1="502.2" y1="356.6" x2="502.2" y2="375.4" stroke="#1a1a1a" stroke-width="1.1" stroke-dasharray="1.3 0.75"/>
<line x1="497.2" y1="337.3" x2="507.2" y2="337.3" stroke="#000" stroke-width="1.0"/>
<line x1="497.2" y1="375.4" x2="507.2" y2="375.4" stroke="#7a7a7a" stroke-width="1.35"/>
<line x1="535.2" y1="315" x2="535.2" y2="356.9" stroke="#000" stroke-width="1.0"/>
<line x1="530.2" y1="315" x2="540.2" y2="315" stroke="#000" stroke-width="1.0"/>
<line x1="530.2" y1="356.9" x2="540.2" y2="356.9" stroke="#000" stroke-width="1.0"/>
<line x1="562" y1="293" x2="562" y2="326.8" stroke="#000" stroke-width="1.0"/>
<line x1="562" y1="326.8" x2="562" y2="359.6" stroke="#1a1a1a" stroke-width="1.1" stroke-dasharray="1.3 0.75"/>
<line x1="557.0" y1="293" x2="567.0" y2="293" stroke="#000" stroke-width="1.0"/>
<line x1="557.0" y1="359.6" x2="567.0" y2="359.6" stroke="#7a7a7a" stroke-width="1.35"/>
<circle cx="475.4" cy="279.3" r="2.25"/>
<circle cx="475.4" cy="310.1" r="2.25"/>
<circle cx="471" cy="327.1" r="2.25"/>
<circle cx="479.8" cy="325.5" r="2.25"/>
<circle cx="471" cy="334.3" r="2.25"/>
<circle cx="479.8" cy="336.5" r="2.25"/>
<circle cx="471" cy="345.8" r="2.25"/>
<circle cx="479.8" cy="346.7" r="2.25"/>
<circle cx="475.4" cy="352.2" r="2.25"/>
<circle cx="479.8" cy="366.6" r="2.25"/>
<circle cx="471" cy="370.7" r="2.25"/>
<circle cx="494.2" cy="329.8" r="2.25"/>
<circle cx="499.5" cy="331.6" r="2.25"/>
<circle cx="504.8" cy="332.4" r="2.25"/>
<circle cx="502.2" cy="349" r="2.25"/>
<circle cx="494.2" cy="367.1" r="2.25"/>
<circle cx="510" cy="366.1" r="2.25"/>
<circle cx="499.5" cy="370.1" r="2.25"/>
<circle cx="504.8" cy="369.2" r="2.25"/>
<circle cx="510" cy="371" r="2.25"/>
<circle cx="502.2" cy="376.3" r="2.25"/>
<circle cx="535.2" cy="279.8" r="2.25"/>
<circle cx="535.2" cy="326.6" r="2.25"/>
<circle cx="527.1" cy="328" r="2.25"/>
<circle cx="543.1" cy="330.8" r="2.25"/>
<circle cx="527.1" cy="332.6" r="2.25"/>
<circle cx="535.2" cy="332.6" r="2.25"/>
<circle cx="535.2" cy="338.2" r="2.25"/>
<circle cx="531.2" cy="345.2" r="2.25"/>
<circle cx="539.4" cy="347.2" r="2.25"/>
<circle cx="543.1" cy="352.4" r="2.25"/>
<circle cx="535.2" cy="354.5" r="2.25"/>
<circle cx="535.2" cy="361.9" r="2.25"/>
<circle cx="562" cy="255.9" r="2.25"/>
<circle cx="562" cy="284.9" r="2.25"/>
<circle cx="562" cy="308.3" r="2.25"/>
<circle cx="557.6" cy="326" r="2.25"/>
<circle cx="566.4" cy="324.9" r="2.25"/>
<circle cx="557.6" cy="334.2" r="2.25"/>
<circle cx="566.4" cy="333.8" r="2.25"/>
<circle cx="562" cy="340.9" r="2.25"/>
<circle cx="562" cy="350.7" r="2.25"/>
<circle cx="566.4" cy="364.3" r="2.25"/>
<circle cx="557.6" cy="367" r="2.25"/>
<text x="474.3" y="392.3" font-size="10.2" font-weight="bold" text-anchor="middle">Cre-</text>
<text x="501.9" y="392.3" font-size="10.2" font-weight="bold" text-anchor="middle">Cre+</text>
<text x="535.1" y="392.3" font-size="10.2" font-weight="bold" text-anchor="middle">Cre-</text>
<text x="561" y="392.3" font-size="10.2" font-weight="bold" text-anchor="middle">Cre+</text>
<line x1="472.3" y1="395.5" x2="502.7" y2="395.5" stroke="#4a4a4a" stroke-width="1.3"/>
<line x1="535.9" y1="395.5" x2="566.4" y2="395.5" stroke="#4a4a4a" stroke-width="1.3"/>
<text x="487.2" y="407" font-size="10.2" font-weight="bold" text-anchor="middle">10d</text>
<text x="550.9" y="407" font-size="10.2" font-weight="bold" text-anchor="middle">21d</text>
</g>
<g id="panelI">
<text x="658" y="237.6" font-size="20" font-weight="bold" text-anchor="middle">I</text>
<text x="735.5" y="234" font-size="10.2" font-weight="bold" text-anchor="middle" font-style="italic">Col1a1</text>
<path d="M671.4 250.0 V378.5 H800" fill="none" stroke="#000" stroke-width="1.2"/>
<line x1="667.9" y1="250.8" x2="671.4" y2="250.8" stroke="#000" stroke-width="1.2"/>
<text x="666.4" y="254.3" font-size="10.2" font-weight="bold" text-anchor="end">2.0</text>
<line x1="667.9" y1="282.7" x2="671.4" y2="282.7" stroke="#000" stroke-width="1.2"/>
<text x="666.4" y="286.2" font-size="10.2" font-weight="bold" text-anchor="end">1.5</text>
<line x1="667.9" y1="314.6" x2="671.4" y2="314.6" stroke="#000" stroke-width="1.2"/>
<text x="666.4" y="318.1" font-size="10.2" font-weight="bold" text-anchor="end">1.0</text>
<line x1="667.9" y1="346.5" x2="671.4" y2="346.5" stroke="#000" stroke-width="1.2"/>
<text x="666.4" y="350.0" font-size="10.2" font-weight="bold" text-anchor="end">0.5</text>
<line x1="667.9" y1="378.4" x2="671.4" y2="378.4" stroke="#000" stroke-width="1.2"/>
<text x="666.4" y="381.9" font-size="10.2" font-weight="bold" text-anchor="end">0.0</text>
<text x="647" y="314" font-size="10.2" font-weight="bold" text-anchor="middle" transform="rotate(-90 647 314)" xml:space="preserve">Fold  change</text>
<rect x="682.5" y="315" width="19.100000000000023" height="63.5" fill="#fff" stroke="#000" stroke-width="1.4"/>
<line x1="692.35" y1="378.5" x2="692.35" y2="381.7" stroke="#000" stroke-width="1.2"/>
<rect x="709.2" y="333.3" width="18.649999999999977" height="45.19999999999999" fill="url(#dots)" stroke="#000" stroke-width="1.4"/>
<line x1="718.95" y1="378.5" x2="718.95" y2="381.7" stroke="#000" stroke-width="1.2"/>
<rect x="742.1" y="315" width="19.100000000000023" height="63.5" fill="#fff" stroke="#000" stroke-width="1.4"/>
<line x1="751.95" y1="378.5" x2="751.95" y2="381.7" stroke="#000" stroke-width="1.2"/>
<rect x="768.7" y="308.4" width="18.84999999999991" height="70.10000000000002" fill="url(#dots)" stroke="#000" stroke-width="1.4"/>
<line x1="778.55" y1="378.5" x2="778.55" y2="381.7" stroke="#000" stroke-width="1.2"/>
<line x1="692.4" y1="288.4" x2="692.4" y2="340.5" stroke="#000" stroke-width="1.0"/>
<line x1="687.4" y1="288.4" x2="697.4" y2="288.4" stroke="#000" stroke-width="1.0"/>
<line x1="687.4" y1="340.5" x2="697.4" y2="340.5" stroke="#000" stroke-width="1.0"/>
<line x1="718.9" y1="302.5" x2="718.9" y2="333.3" stroke="#000" stroke-width="1.0"/>
<line x1="718.9" y1="333.3" x2="718.9" y2="362.7" stroke="#1a1a1a" stroke-width="1.1" stroke-dasharray="1.3 0.75"/>
<line x1="713.9" y1="302.5" x2="723.9" y2="302.5" stroke="#000" stroke-width="1.0"/>
<line x1="713.9" y1="362.7" x2="723.9" y2="362.7" stroke="#7a7a7a" stroke-width="1.35"/>
<line x1="751.8" y1="306.6" x2="751.8" y2="321.9" stroke="#000" stroke-width="1.0"/>
<line x1="746.8" y1="306.6" x2="756.8" y2="306.6" stroke="#000" stroke-width="1.0"/>
<line x1="746.8" y1="321.9" x2="756.8" y2="321.9" stroke="#000" stroke-width="1.0"/>
<line x1="778.7" y1="286.9" x2="778.7" y2="308.4" stroke="#000" stroke-width="1.0"/>
<line x1="778.7" y1="308.4" x2="778.7" y2="328.9" stroke="#1a1a1a" stroke-width="1.1" stroke-dasharray="1.3 0.75"/>
<line x1="773.7" y1="286.9" x2="783.7" y2="286.9" stroke="#000" stroke-width="1.0"/>
<line x1="773.7" y1="328.9" x2="783.7" y2="328.9" stroke="#7a7a7a" stroke-width="1.35"/>
<circle cx="692.4" cy="270" r="2.25"/>
<circle cx="687.8" cy="291.3" r="2.25"/>
<circle cx="696.9" cy="290.2" r="2.25"/>
<circle cx="687.8" cy="301.3" r="2.25"/>
<circle cx="696.9" cy="302.7" r="2.25"/>
<circle cx="692.4" cy="315.9" r="2.25"/>
<circle cx="687.8" cy="325" r="2.25"/>
<circle cx="696.9" cy="329.1" r="2.25"/>
<circle cx="687.8" cy="338.7" r="2.25"/>
<circle cx="696.9" cy="341.2" r="2.25"/>
<circle cx="692.4" cy="355.8" r="2.25"/>
<circle cx="714.5" cy="293.7" r="2.25"/>
<circle cx="723.3" cy="296" r="2.25"/>
<circle cx="718.9" cy="304.8" r="2.25"/>
<circle cx="718.9" cy="325.9" r="2.25"/>
<circle cx="718.9" cy="333.8" r="2.25"/>
<circle cx="718.9" cy="342.6" r="2.25"/>
<circle cx="718.9" cy="353.2" r="2.25"/>
<circle cx="714.3" cy="373.3" r="2.25"/>
<circle cx="723.1" cy="370" r="2.25"/>
<circle cx="749.2" cy="301.6" r="2.25"/>
<circle cx="749.2" cy="306.9" r="2.25"/>
<circle cx="755" cy="305.7" r="2.25"/>
<circle cx="751.8" cy="311.8" r="2.25"/>
<circle cx="755" cy="311.8" r="2.25"/>
<circle cx="746.2" cy="314.5" r="2.25"/>
<circle cx="760.2" cy="315" r="2.25"/>
<circle cx="743.9" cy="317.1" r="2.25"/>
<circle cx="746.2" cy="321" r="2.25"/>
<circle cx="755" cy="322.4" r="2.25"/>
<circle cx="759.7" cy="321.9" r="2.25"/>
<circle cx="743.9" cy="325.9" r="2.25"/>
<circle cx="778.7" cy="272.6" r="2.25"/>
<circle cx="778.7" cy="282.8" r="2.25"/>
<circle cx="774.3" cy="296.4" r="2.25"/>
<circle cx="783.1" cy="297.2" r="2.25"/>
<circle cx="774.3" cy="304.3" r="2.25"/>
<circle cx="783.1" cy="304.8" r="2.25"/>
<circle cx="774.3" cy="315" r="2.25"/>
<circle cx="783.1" cy="315" r="2.25"/>
<circle cx="778.7" cy="323.3" r="2.25"/>
<circle cx="778.7" cy="334.7" r="2.25"/>
<circle cx="778.7" cy="341.7" r="2.25"/>
<text x="690.8" y="392.5" font-size="10.2" font-weight="bold" text-anchor="middle">Cre-</text>
<text x="718.6" y="392.5" font-size="10.2" font-weight="bold" text-anchor="middle">Cre+</text>
<text x="751.7" y="392.5" font-size="10.2" font-weight="bold" text-anchor="middle">Cre-</text>
<text x="778.3" y="392.5" font-size="10.2" font-weight="bold" text-anchor="middle">Cre+</text>
<line x1="688.4" y1="395.3" x2="718.6" y2="395.3" stroke="#4a4a4a" stroke-width="1.3"/>
<line x1="752.5" y1="395.3" x2="782.7" y2="395.3" stroke="#4a4a4a" stroke-width="1.3"/>
<text x="703" y="407" font-size="10.2" font-weight="bold" text-anchor="middle">10d</text>
<text x="767" y="407" font-size="10.2" font-weight="bold" text-anchor="middle">21d</text>
</g>
<g id="panelJ">
<text x="18.4" y="463" font-size="20" font-weight="bold" text-anchor="middle">J</text>
<text x="102.5" y="462.2" font-size="10.2" font-weight="bold" text-anchor="middle">Alizarin Red S</text>
<path d="M38.4 478.0 V606.2 H167.3" fill="none" stroke="#000" stroke-width="1.2"/>
<line x1="34.9" y1="478.8" x2="38.4" y2="478.8" stroke="#000" stroke-width="1.2"/>
<text x="33.4" y="482.3" font-size="10.2" font-weight="bold" text-anchor="end">4</text>
<line x1="34.9" y1="510.7" x2="38.4" y2="510.7" stroke="#000" stroke-width="1.2"/>
<text x="33.4" y="514.2" font-size="10.2" font-weight="bold" text-anchor="end">3</text>
<line x1="34.9" y1="542.5" x2="38.4" y2="542.5" stroke="#000" stroke-width="1.2"/>
<text x="33.4" y="546.0" font-size="10.2" font-weight="bold" text-anchor="end">2</text>
<line x1="34.9" y1="574.4" x2="38.4" y2="574.4" stroke="#000" stroke-width="1.2"/>
<text x="33.4" y="577.9" font-size="10.2" font-weight="bold" text-anchor="end">1</text>
<line x1="34.9" y1="606.2" x2="38.4" y2="606.2" stroke="#000" stroke-width="1.2"/>
<text x="33.4" y="609.7" font-size="10.2" font-weight="bold" text-anchor="end">0</text>
<text x="10.9" y="541.7" font-size="10.2" font-weight="bold" text-anchor="middle" transform="rotate(-90 10.9 541.7)">Absorbance</text>
<rect x="49.6" y="559.3" width="18.800000000000004" height="46.90000000000009" fill="#fff" stroke="#000" stroke-width="1.4"/>
<line x1="59.3" y1="606.2" x2="59.3" y2="609.4000000000001" stroke="#000" stroke-width="1.2"/>
<rect x="76.3" y="585.8" width="18.549999999999997" height="20.40000000000009" fill="url(#dots)" stroke="#000" stroke-width="1.4"/>
<line x1="86.0" y1="606.2" x2="86.0" y2="609.4000000000001" stroke="#000" stroke-width="1.2"/>
<rect x="109.1" y="539.1" width="18.80000000000001" height="67.10000000000002" fill="#fff" stroke="#000" stroke-width="1.4"/>
<line x1="118.8" y1="606.2" x2="118.8" y2="609.4000000000001" stroke="#000" stroke-width="1.2"/>
<rect x="135.9" y="559.3" width="18.549999999999983" height="46.90000000000009" fill="url(#dots)" stroke="#000" stroke-width="1.4"/>
<line x1="145.60000000000002" y1="606.2" x2="145.60000000000002" y2="609.4000000000001" stroke="#000" stroke-width="1.2"/>
<line x1="59.2" y1="533.3" x2="59.2" y2="583.9" stroke="#000" stroke-width="1.0"/>
<line x1="54.2" y1="533.3" x2="64.2" y2="533.3" stroke="#000" stroke-width="1.0"/>
<line x1="54.2" y1="583.9" x2="64.2" y2="583.9" stroke="#000" stroke-width="1.0"/>
<line x1="86" y1="574.5" x2="86" y2="585.8" stroke="#000" stroke-width="1.0"/>
<line x1="86" y1="585.8" x2="86" y2="596" stroke="#1a1a1a" stroke-width="1.1" stroke-dasharray="1.3 0.75"/>
<line x1="81.0" y1="574.5" x2="91.0" y2="574.5" stroke="#000" stroke-width="1.0"/>
<line x1="81.0" y1="596" x2="91.0" y2="596" stroke="#7a7a7a" stroke-width="1.35"/>
<line x1="118.8" y1="511.3" x2="118.8" y2="565.6" stroke="#000" stroke-width="1.0"/>
<line x1="113.8" y1="511.3" x2="123.8" y2="511.3" stroke="#000" stroke-width="1.0"/>
<line x1="113.8" y1="565.6" x2="123.8" y2="565.6" stroke="#000" stroke-width="1.0"/>
<line x1="145.5" y1="534.2" x2="145.5" y2="559.3" stroke="#000" stroke-width="1.0"/>
<line x1="145.5" y1="559.3" x2="145.5" y2="582.6" stroke="#1a1a1a" stroke-width="1.1" stroke-dasharray="1.3 0.75"/>
<line x1="140.5" y1="534.2" x2="150.5" y2="534.2" stroke="#000" stroke-width="1.0"/>
<line x1="140.5" y1="582.6" x2="150.5" y2="582.6" stroke="#7a7a7a" stroke-width="1.35"/>
<circle cx="59.2" cy="521" r="2.25"/>
<circle cx="59.2" cy="536" r="2.25"/>
<circle cx="59.2" cy="561" r="2.25"/>
<circle cx="59.2" cy="569.5" r="2.25"/>
<circle cx="55" cy="582.9" r="2.25"/>
<circle cx="63.3" cy="582.5" r="2.25"/>
<circle cx="83.4" cy="567.2" r="2.25"/>
<circle cx="88.7" cy="571.5" r="2.25"/>
<circle cx="94" cy="575.5" r="2.25"/>
<circle cx="83.4" cy="576.5" r="2.25"/>
<circle cx="88.6" cy="582.5" r="2.25"/>
<circle cx="86" cy="587.8" r="2.25"/>
<circle cx="78.1" cy="592.5" r="2.25"/>
<circle cx="91.3" cy="589.9" r="2.25"/>
<circle cx="83.4" cy="595.7" r="2.25"/>
<circle cx="88.6" cy="595.7" r="2.25"/>
<circle cx="93.9" cy="596" r="2.25"/>
<circle cx="86" cy="602.7" r="2.25"/>
<circle cx="110.9" cy="522.2" r="2.25"/>
<circle cx="118.8" cy="520.5" r="2.25"/>
<circle cx="126.7" cy="518.7" r="2.25"/>
<circle cx="126.7" cy="523.6" r="2.25"/>
<circle cx="118.8" cy="569.9" r="2.25"/>
<circle cx="118.8" cy="577" r="2.25"/>
<circle cx="145.5" cy="516.3" r="2.25"/>
<circle cx="145.5" cy="523.3" r="2.25"/>
<circle cx="145.5" cy="536" r="2.25"/>
<circle cx="145.5" cy="541.8" r="2.25"/>
<circle cx="145.5" cy="548.5" r="2.25"/>
<circle cx="141.2" cy="568.3" r="2.25"/>
<circle cx="149.9" cy="570.2" r="2.25"/>
<circle cx="141.2" cy="573.6" r="2.25"/>
<circle cx="149.9" cy="575" r="2.25"/>
<circle cx="141.2" cy="579.4" r="2.25"/>
<circle cx="149.9" cy="582.9" r="2.25"/>
<circle cx="145.5" cy="587.3" r="2.25"/>
<path d="M59.2 514.8 V498.1 H85.9 V561.1" fill="none" stroke="#111" stroke-width="1.15"/>
<text x="72.6" y="499.59999999999997" font-size="17" font-weight="bold" text-anchor="middle" style="stroke:none">**</text>
<text x="58" y="620.8" font-size="10.2" font-weight="bold" text-anchor="middle">Cre-</text>
<text x="85.8" y="620.8" font-size="10.2" font-weight="bold" text-anchor="middle">Cre+</text>
<text x="118.5" y="620.8" font-size="10.2" font-weight="bold" text-anchor="middle">Cre-</text>
<text x="145.2" y="620.8" font-size="10.2" font-weight="bold" text-anchor="middle">Cre+</text>
<line x1="55.4" y1="624.4" x2="86.4" y2="624.4" stroke="#4a4a4a" stroke-width="1.3"/>
<line x1="120.5" y1="624.4" x2="150.8" y2="624.4" stroke="#4a4a4a" stroke-width="1.3"/>
<text x="71.5" y="635.4" font-size="10.2" font-weight="bold" text-anchor="middle">10d</text>
<text x="135.5" y="635.4" font-size="10.2" font-weight="bold" text-anchor="middle">21d</text>
</g>
<g id="panelK">
<text x="208.5" y="463.3" font-size="20" font-weight="bold" text-anchor="middle">K</text>
<text x="261.3" y="467.7" font-size="10.2" font-weight="bold" text-anchor="middle">Cre-</text>
<text x="339.3" y="467.7" font-size="10.2" font-weight="bold" text-anchor="middle">Cre+</text>
<text x="221" y="506.3" font-size="10.2" font-weight="bold" text-anchor="middle" transform="rotate(-90 221 506.3)">d10</text>
<text x="221" y="583.7" font-size="10.2" font-weight="bold" text-anchor="middle" transform="rotate(-90 221 583.7)">d21</text>
<svg x="225.3" y="469.5" width="73.5" height="73.5" viewBox="0 0 100 100" preserveAspectRatio="none">
<rect width="100" height="100" fill="url(#kbg)"/>
<circle cx="51" cy="50" r="51" fill="#dfcfd6"/>
<circle cx="51" cy="50" r="50" fill="none" stroke="#cdb9c3" stroke-width="2.5" opacity="0.8"/>
<circle cx="52" cy="49.5" r="44" fill="#e4d2d8" stroke="#d3b3bd" stroke-width="1.6"/>
<g clip-path="url(#kc1)">
<g filter="url(#wb)">
<circle cx="52" cy="50" r="43" fill="#dcc3ca"/>
<ellipse cx="49" cy="43" rx="46" ry="40" fill="url(#kr1)"/>
<ellipse cx="20" cy="54" rx="11" ry="15" fill="#b04655" opacity="0.85"/>
<ellipse cx="76" cy="38" rx="12" ry="18" fill="#b24a58" opacity="0.8"/>
<ellipse cx="56" cy="18" rx="22" ry="8" fill="#b4505d" opacity="0.8"/>
<ellipse cx="38" cy="83" rx="9" ry="4.5" fill="#c54a5a" opacity="0.9"/>
<ellipse cx="30" cy="74" rx="8" ry="4" fill="#cf7480" opacity="0.7"/>
<ellipse cx="72" cy="76" rx="10" ry="5" fill="#dba3ab" opacity="0.7"/>
<ellipse cx="61" cy="80" rx="18" ry="8" fill="#ebe2e6" opacity="0.95"/><ellipse cx="52" cy="71" rx="18" ry="5" fill="#e3cdd3" opacity="0.7"/><ellipse cx="24" cy="70" rx="8" ry="6" fill="#b85563" opacity="0.7"/>
</g>
<ellipse cx="56" cy="72" rx="30" ry="12" fill="#ecd5da" filter="url(#mot)" opacity="0.4"/>
<path d="M83 22 A40 40 0 0 1 86 72" fill="none" stroke="#ecd9de" stroke-width="3" opacity="0.7" filter="url(#kb1)"/>
</g>
</svg>
<svg x="303.2" y="469.5" width="73.5" height="73.5" viewBox="0 0 100 100" preserveAspectRatio="none">
<rect width="100" height="100" fill="url(#kbg)"/>
<circle cx="50" cy="50" r="51" fill="#e4d5db"/>
<circle cx="50" cy="50" r="50" fill="none" stroke="#cfbcc6" stroke-width="2.5" opacity="0.8"/>
<circle cx="51" cy="50" r="44.5" fill="#ead9de" stroke="#d9bcc5" stroke-width="1.4"/>
<g clip-path="url(#kc2)">
<g filter="url(#wb)">
<circle cx="51" cy="50" r="42" fill="#e9dfe4"/>
<ellipse cx="46" cy="38" rx="31" ry="29" fill="url(#kr2)"/>
<ellipse cx="57" cy="13" rx="9" ry="5" fill="#b84758" opacity="0.9"/>
<ellipse cx="20" cy="52" rx="6" ry="6" fill="#c04a5b" opacity="0.9"/>
<ellipse cx="16" cy="66" rx="4" ry="6" fill="#cc6273" opacity="0.8"/>
<ellipse cx="24" cy="79" rx="4" ry="4" fill="#c9596a" opacity="0.8"/>
<ellipse cx="62" cy="84" rx="14" ry="8" fill="#dc96a2" opacity="0.8"/>
<ellipse cx="76" cy="62" rx="8" ry="5" fill="#d98896" opacity="0.7"/>
<ellipse cx="40" cy="62" rx="8" ry="7" fill="#bf5565" opacity="0.8"/>
</g>
<ellipse cx="46" cy="40" rx="30" ry="28" fill="#f0dde2" filter="url(#mot)" opacity="0.4"/>
<ellipse cx="52" cy="49" rx="15" ry="14" fill="url(#kd2)" filter="url(#kb2)"/>
</g>
</svg>
<svg x="225.3" y="547.5" width="73.5" height="73.1" viewBox="0 0 100 100" preserveAspectRatio="none">
<rect width="100" height="100" fill="url(#kbg2)"/>
<circle cx="50" cy="52" r="51" fill="#dcc6cf"/>
<circle cx="50" cy="52" r="50" fill="none" stroke="#c9b2be" stroke-width="2.5" opacity="0.8"/>
<circle cx="50.5" cy="53.5" r="45" fill="#893941" stroke="#c08a96" stroke-width="1.6"/>
<g clip-path="url(#kc3)">
<g filter="url(#wb)">
<circle cx="50.5" cy="53.5" r="46" fill="#873840"/>
<ellipse cx="44" cy="48" rx="38" ry="36" fill="url(#kr3)"/>
<ellipse cx="84" cy="55" rx="8" ry="28" fill="#ac4955" opacity="0.8"/>
<ellipse cx="55" cy="74" rx="11" ry="5" fill="#cf97a1" opacity="0.8"/>
<ellipse cx="66" cy="86" rx="9" ry="6" fill="#ecd0d5" opacity="0.95"/>
<ellipse cx="42" cy="90" rx="8" ry="4" fill="#cf7f8b" opacity="0.8"/>
<ellipse cx="34" cy="26" rx="12" ry="4" fill="#c98690" opacity="0.6" transform="rotate(-15 34 26)"/><ellipse cx="72" cy="62" rx="5" ry="10" fill="#b65a64" opacity="0.6"/>
<ellipse cx="68" cy="28" rx="5" ry="4" fill="#c98a95" opacity="0.6"/>
</g>
<ellipse cx="58" cy="78" rx="24" ry="16" fill="#e5bcc4" filter="url(#mot)" opacity="0.4"/>
</g>
</svg>
<svg x="303.2" y="547.5" width="73.5" height="73.1" viewBox="0 0 100 100" preserveAspectRatio="none">
<rect width="100" height="100" fill="url(#kbg2)"/>
<circle cx="50" cy="51" r="51" fill="#e1ccd4"/>
<circle cx="50" cy="51" r="50" fill="none" stroke="#ccb6c1" stroke-width="2.5" opacity="0.8"/>
<circle cx="49.5" cy="51" r="44.5" fill="#973e48" stroke="#cf9aa5" stroke-width="1.6"/>
<g clip-path="url(#kc4)">
<g filter="url(#wb)">
<circle cx="49.5" cy="51" r="45" fill="#973e48"/>
<ellipse cx="47" cy="42" rx="34" ry="30" fill="url(#kr4)"/>
<ellipse cx="48" cy="80" rx="30" ry="9" fill="#d99aa5" opacity="0.9"/>
<ellipse cx="48" cy="85" rx="20" ry="5" fill="#e6bcc4" opacity="0.9"/>
<ellipse cx="18" cy="64" rx="6" ry="8" fill="#d08b97" opacity="0.7"/>
<ellipse cx="80" cy="66" rx="6" ry="8" fill="#cf8591" opacity="0.7"/>
<ellipse cx="28" cy="28" rx="9" ry="5" fill="#cf909b" opacity="0.6"/><ellipse cx="26" cy="72" rx="10" ry="8" fill="#d598a2" opacity="0.7"/><ellipse cx="72" cy="72" rx="10" ry="7" fill="#d08d98" opacity="0.6"/>
</g>
<ellipse cx="50" cy="76" rx="36" ry="14" fill="#efd0d6" filter="url(#mot)" opacity="0.4"/>
</g>
</svg>
</g>
<g id="panelL">
<text x="425.3" y="463" font-size="20" font-weight="bold" text-anchor="middle">L</text>
<text x="488" y="461.8" font-size="10.2" font-weight="bold" text-anchor="middle" font-style="italic">Rankl</text>
<path d="M444 478.0 V606.3 H529.5" fill="none" stroke="#000" stroke-width="1.2"/>
<line x1="440.5" y1="478.8" x2="444" y2="478.8" stroke="#000" stroke-width="1.2"/>
<text x="439" y="482.3" font-size="10.2" font-weight="bold" text-anchor="end">10</text>
<line x1="440.5" y1="504.3" x2="444" y2="504.3" stroke="#000" stroke-width="1.2"/>
<text x="439" y="507.8" font-size="10.2" font-weight="bold" text-anchor="end">8</text>
<line x1="440.5" y1="529.8" x2="444" y2="529.8" stroke="#000" stroke-width="1.2"/>
<text x="439" y="533.3" font-size="10.2" font-weight="bold" text-anchor="end">6</text>
<line x1="440.5" y1="555.3" x2="444" y2="555.3" stroke="#000" stroke-width="1.2"/>
<text x="439" y="558.8" font-size="10.2" font-weight="bold" text-anchor="end">4</text>
<line x1="440.5" y1="580.8" x2="444" y2="580.8" stroke="#000" stroke-width="1.2"/>
<text x="439" y="584.3" font-size="10.2" font-weight="bold" text-anchor="end">2</text>
<line x1="440.5" y1="606.3" x2="444" y2="606.3" stroke="#000" stroke-width="1.2"/>
<text x="439" y="609.8" font-size="10.2" font-weight="bold" text-anchor="end">0</text>
<text x="422.7" y="541.7" font-size="10.2" font-weight="bold" text-anchor="middle" transform="rotate(-90 422.7 541.7)" xml:space="preserve">Fold  Change</text>
<rect x="456.7" y="593.8" width="22.69999999999999" height="12.5" fill="#fff" stroke="#000" stroke-width="1.4"/>
<rect x="487.5" y="573.4" width="22.25" height="32.89999999999998" fill="url(#dots)" stroke="#000" stroke-width="1.4"/>
<line x1="468.4" y1="606.3" x2="468.4" y2="609.5" stroke="#000" stroke-width="1.2"/>
<line x1="499" y1="606.3" x2="499" y2="609.5" stroke="#000" stroke-width="1.2"/>
<line x1="468.4" y1="585.5" x2="468.4" y2="602" stroke="#000" stroke-width="1.0"/>
<line x1="462.4" y1="585.5" x2="474.4" y2="585.5" stroke="#000" stroke-width="1.0"/>
<line x1="462.4" y1="602" x2="474.4" y2="602" stroke="#7a7a7a" stroke-width="1.35"/>
<line x1="499" y1="536.8" x2="499" y2="609.5" stroke="#666" stroke-width="1.3"/>
<line x1="493" y1="536.8" x2="505" y2="536.8" stroke="#555" stroke-width="1.2"/>
<circle cx="468" cy="573.7" r="2.25"/>
<circle cx="463.3" cy="587.2" r="2.25"/>
<circle cx="473" cy="589.2" r="2.25"/>
<circle cx="468" cy="590.4" r="2.25"/>
<circle cx="458.6" cy="594.8" r="2.25"/>
<circle cx="463.3" cy="597.3" r="2.25"/>
<circle cx="468" cy="598.6" r="2.25"/>
<circle cx="473" cy="598.6" r="2.25"/>
<circle cx="478" cy="595.3" r="2.25"/>
<circle cx="458.6" cy="601.3" r="2.25"/>
<circle cx="478" cy="601.7" r="2.25"/>
<circle cx="494" cy="505.4" r="2.25"/>
<circle cx="498.8" cy="507.8" r="2.25"/>
<circle cx="494" cy="561.3" r="2.25"/>
<circle cx="498.8" cy="564.9" r="2.25"/>
<circle cx="498.8" cy="570.6" r="2.25"/>
<circle cx="498.8" cy="592.2" r="2.25"/>
<circle cx="489.2" cy="600" r="2.25"/>
<circle cx="494" cy="598.4" r="2.25"/>
<circle cx="498.8" cy="600" r="2.25"/>
<circle cx="503.7" cy="598.4" r="2.25"/>
<circle cx="508.5" cy="602.6" r="2.25"/>
<text x="466.6" y="620.4" font-size="10.2" font-weight="bold" text-anchor="middle">Cre-</text>
<text x="497.5" y="620.4" font-size="10.2" font-weight="bold" text-anchor="middle">Cre+</text>
</g>
<g id="panelM">
<text x="554.4" y="463" font-size="20" font-weight="bold" text-anchor="middle">M</text>
<text x="618.4" y="461.8" font-size="10.2" font-weight="bold" text-anchor="middle" font-style="italic">Opg</text>
<path d="M574.3 478.0 V606.4 H658.6" fill="none" stroke="#000" stroke-width="1.2"/>
<line x1="570.8" y1="478.8" x2="574.3" y2="478.8" stroke="#000" stroke-width="1.2"/>
<text x="569.3" y="482.3" font-size="10.2" font-weight="bold" text-anchor="end">3</text>
<line x1="570.8" y1="521.3" x2="574.3" y2="521.3" stroke="#000" stroke-width="1.2"/>
<text x="569.3" y="524.8" font-size="10.2" font-weight="bold" text-anchor="end">2</text>
<line x1="570.8" y1="563.9" x2="574.3" y2="563.9" stroke="#000" stroke-width="1.2"/>
<text x="569.3" y="567.4" font-size="10.2" font-weight="bold" text-anchor="end">1</text>
<line x1="570.8" y1="606.4" x2="574.3" y2="606.4" stroke="#000" stroke-width="1.2"/>
<text x="569.3" y="609.9" font-size="10.2" font-weight="bold" text-anchor="end">0</text>
<text x="559.6" y="541.5" font-size="10.2" font-weight="bold" text-anchor="middle" transform="rotate(-90 559.6 541.5)" xml:space="preserve">Fold  Change</text>
<rect x="587.5" y="565" width="22.200000000000045" height="41.39999999999998" fill="#fff" stroke="#000" stroke-width="1.4"/>
<rect x="617.9" y="547.3" width="21.850000000000023" height="59.10000000000002" fill="url(#dots)" stroke="#000" stroke-width="1.4"/>
<line x1="598.9" y1="606.4" x2="598.9" y2="609.6" stroke="#000" stroke-width="1.2"/>
<line x1="629.3" y1="606.4" x2="629.3" y2="609.6" stroke="#000" stroke-width="1.2"/>
<line x1="598.6" y1="547.2" x2="598.6" y2="580.7" stroke="#000" stroke-width="1.0"/>
<line x1="592.6" y1="547.2" x2="604.6" y2="547.2" stroke="#000" stroke-width="1.0"/>
<line x1="592.6" y1="580.7" x2="604.6" y2="580.7" stroke="#7a7a7a" stroke-width="1.35"/>
<line x1="629.3" y1="516.6" x2="629.3" y2="577.2" stroke="#000" stroke-width="1.0"/>
<line x1="623.3" y1="516.6" x2="635.3" y2="516.6" stroke="#000" stroke-width="1.0"/>
<line x1="623.3" y1="577.2" x2="635.3" y2="577.2" stroke="#7a7a7a" stroke-width="1.35"/>
<circle cx="598.6" cy="531.9" r="2.25"/>
<circle cx="589.2" cy="552.7" r="2.25"/>
<circle cx="598.6" cy="549.7" r="2.25"/>
<circle cx="608.2" cy="556.7" r="2.25"/>
<circle cx="598.6" cy="560.6" r="2.25"/>
<circle cx="589.2" cy="564.4" r="2.25"/>
<circle cx="608.2" cy="564.1" r="2.25"/>
<circle cx="598.6" cy="571.7" r="2.25"/>
<circle cx="593.9" cy="582" r="2.25"/>
<circle cx="603.4" cy="584.4" r="2.25"/>
<circle cx="598.7" cy="588.8" r="2.25"/>
<circle cx="629.3" cy="489.3" r="2.25"/>
<circle cx="629.3" cy="493.7" r="2.25"/>
<circle cx="629.3" cy="532.8" r="2.25"/>
<circle cx="629.3" cy="543.5" r="2.25"/>
<circle cx="619.7" cy="560.2" r="2.25"/>
<circle cx="626.2" cy="560.2" r="2.25"/>
<circle cx="632.7" cy="557.1" r="2.25"/>
<circle cx="639" cy="560.2" r="2.25"/>
<circle cx="632.7" cy="563.2" r="2.25"/>
<circle cx="629.3" cy="567.3" r="2.25"/>
<circle cx="629.1" cy="585.4" r="2.25"/>
<text x="597.3" y="620.6" font-size="10.2" font-weight="bold" text-anchor="middle">Cre-</text>
<text x="628.1" y="620.6" font-size="10.2" font-weight="bold" text-anchor="middle">Cre+</text>
</g>
<g id="panelN">
<text x="694.7" y="463" font-size="20" font-weight="bold" text-anchor="middle">N</text>
<text x="757" y="461.8" font-size="10.2" font-weight="bold" text-anchor="middle">Rankl/Opg</text>
<path d="M714.4 478.5 V606.4 H800" fill="none" stroke="#000" stroke-width="1.2"/>
<line x1="710.9" y1="479.4" x2="714.4" y2="479.4" stroke="#000" stroke-width="1.2"/>
<text x="709.4" y="482.9" font-size="10.2" font-weight="bold" text-anchor="end">0.8</text>
<line x1="710.9" y1="511.1" x2="714.4" y2="511.1" stroke="#000" stroke-width="1.2"/>
<text x="709.4" y="514.6" font-size="10.2" font-weight="bold" text-anchor="end">0.6</text>
<line x1="710.9" y1="542.9" x2="714.4" y2="542.9" stroke="#000" stroke-width="1.2"/>
<text x="709.4" y="546.4" font-size="10.2" font-weight="bold" text-anchor="end">0.4</text>
<line x1="710.9" y1="574.6" x2="714.4" y2="574.6" stroke="#000" stroke-width="1.2"/>
<text x="709.4" y="578.1" font-size="10.2" font-weight="bold" text-anchor="end">0.2</text>
<line x1="710.9" y1="606.4" x2="714.4" y2="606.4" stroke="#000" stroke-width="1.2"/>
<text x="709.4" y="609.9" font-size="10.2" font-weight="bold" text-anchor="end">0.0</text>
<text x="689.7" y="541" font-size="10.2" font-weight="bold" text-anchor="middle" transform="rotate(-90 689.7 541)">Ratio</text>
<rect x="726.6" y="588.7" width="22.199999999999932" height="17.699999999999932" fill="#fff" stroke="#000" stroke-width="1.4"/>
<rect x="757.5" y="569" width="22.049999999999955" height="37.39999999999998" fill="url(#dots)" stroke="#000" stroke-width="1.4"/>
<line x1="738" y1="606.4" x2="738" y2="609.6" stroke="#000" stroke-width="1.2"/>
<line x1="768.6" y1="606.4" x2="768.6" y2="609.6" stroke="#000" stroke-width="1.2"/>
<line x1="737.7" y1="578.9" x2="737.7" y2="597.5" stroke="#000" stroke-width="1.0"/>
<line x1="731.7" y1="578.9" x2="743.7" y2="578.9" stroke="#7a7a7a" stroke-width="1.35"/>
<line x1="731.7" y1="597.5" x2="743.7" y2="597.5" stroke="#000" stroke-width="1.0"/>
<line x1="768.5" y1="536.7" x2="768.5" y2="599.7" stroke="#000" stroke-width="1.0"/>
<line x1="762.5" y1="536.7" x2="774.5" y2="536.7" stroke="#000" stroke-width="1.0"/>
<line x1="762.5" y1="599.7" x2="774.5" y2="599.7" stroke="#000" stroke-width="1.0"/>
<circle cx="737.6" cy="564.9" r="2.25"/>
<circle cx="737.6" cy="580.5" r="2.25"/>
<circle cx="728.4" cy="587.5" r="2.25"/>
<circle cx="747.4" cy="586.7" r="2.25"/>
<circle cx="731.9" cy="590.6" r="2.25"/>
<circle cx="747.3" cy="592.8" r="2.25"/>
<circle cx="728.4" cy="594.1" r="2.25"/>
<circle cx="735.8" cy="593.7" r="2.25"/>
<circle cx="739.5" cy="592.8" r="2.25"/>
<circle cx="743.3" cy="595.5" r="2.25"/>
<circle cx="768.6" cy="515.4" r="2.25"/>
<circle cx="768.6" cy="536.1" r="2.25"/>
<circle cx="759" cy="543.8" r="2.25"/>
<circle cx="778.3" cy="545.6" r="2.25"/>
<circle cx="768.6" cy="547.2" r="2.25"/>
<circle cx="768.4" cy="580.9" r="2.25"/>
<circle cx="768.4" cy="585.3" r="2.25"/>
<circle cx="758.7" cy="596.3" r="2.25"/>
<circle cx="768.4" cy="597.7" r="2.25"/>
<circle cx="778" cy="600.7" r="2.25"/>
<circle cx="758.7" cy="602.5" r="2.25"/>
<text x="737" y="620.5" font-size="10.2" font-weight="bold" text-anchor="middle">Cre-</text>
<text x="767.2" y="620.5" font-size="10.2" font-weight="bold" text-anchor="middle">Cre+</text>
</g>
</svg></body></html>
